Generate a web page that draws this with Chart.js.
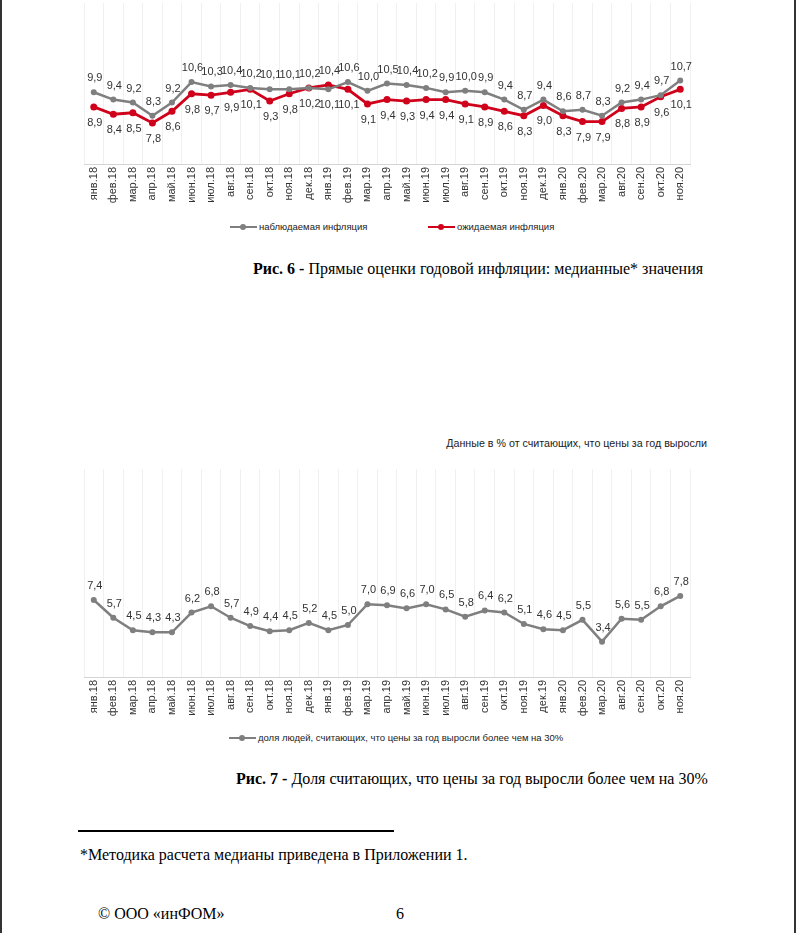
<!DOCTYPE html>
<html lang="ru">
<head>
<meta charset="utf-8">
<script src="https://cdn.jsdelivr.net/npm/chart.js@4.4.1/dist/chart.umd.min.js"></script>
<style>
    html, body { margin: 0; padding: 0; background: #fff; }
    .page {
        position: relative; width: 796px; height: 933px; overflow: hidden;
        box-sizing: border-box; border-left: 2px solid #333; border-right: 2px solid #333;
        font-family: "Liberation Sans", Arial, sans-serif;
    }
    .box { position: absolute; left: -2px; width: 796px; }
    .leg { position: absolute; font-size: 9.5px; color: #222; line-height: 12px; white-space: nowrap; }
    .sym { display: inline-block; position: relative; width: 27px; height: 12px; vertical-align: top; margin-right: 2px; }
    .sym::before { content: ''; position: absolute; left: 0; right: 0; top: 5px; height: 2px; background: var(--c); }
    .sym::after { content: ''; position: absolute; left: 10px; top: 3px; width: 6px; height: 6px; border-radius: 50%; background: var(--c); }
    .cap { position: absolute; font-family: "Liberation Serif", "Times New Roman", serif; font-size: 16px; color: #000; white-space: nowrap; }
    .note { position: absolute; right: 87px; top: 437px; font-size: 10.7px; color: #222; white-space: nowrap; }
    .rule { position: absolute; left: 76px; top: 830px; width: 316px; height: 2px; background: #000; }
</style>
</head>
<body>
<div class="page">
    <div class="box" style="top:-1px; height:210px;"><canvas id="chartInfl"></canvas></div>
    <div class="leg" style="left:228px; top:221px;"><span class="sym" style="--c:#7f7f7f"></span>наблюдаемая инфляция</div>
    <div class="leg" style="left:426px; top:221px;"><span class="sym" style="--c:#d0021b"></span>ожидаемая инфляция</div>
    <div class="cap" style="left:251px; top:260px;"><b>Рис. 6 -</b> Прямые оценки годовой инфляции: медианные* значения</div>

    <div class="note">Данные в % от считающих, что цены за год выросли</div>
    <div class="box" style="top:465px; height:257px;"><canvas id="chartShare"></canvas></div>
    <div class="leg" style="left:227px; top:732px;"><span class="sym" style="--c:#7f7f7f"></span>доля людей, считающих, что цены за год выросли более чем на 30%</div>
    <div class="cap" style="left:234px; top:770px;"><b>Рис. 7 -</b> Доля считающих, что цены за год выросли более чем на 30%</div>

    <div class="rule"></div>
    <div class="cap" style="left:78px; top:846px;">*Методика расчета медианы приведена в Приложении 1.</div>
    <div class="cap" style="left:96px; top:905px;">© ООО «инФОМ»</div>
    <div class="cap" style="left:394px; top:905px;">6</div>
</div>

<script>
// подписи по оси X
const months = [
    'янв.18', 'фев.18', 'мар.18', 'апр.18', 'май.18', 'июн.18', 'июл.18', 'авг.18', 'сен.18', 'окт.18', 'ноя.18', 'дек.18',
    'янв.19', 'фев.19', 'мар.19', 'апр.19', 'май.19', 'июн.19', 'июл.19', 'авг.19', 'сен.19', 'окт.19', 'ноя.19', 'дек.19',
    'янв.20', 'фев.20', 'мар.20', 'авг.20', 'сен.20', 'окт.20', 'ноя.20'
];

// Рис. 6
const observed = [9.9, 9.4, 9.2, 8.3, 9.2, 10.6, 10.3, 10.4, 10.2, 10.1, 10.1, 10.2,
                  10.1, 10.6, 10.0, 10.5, 10.4, 10.2, 9.9, 10.0, 9.9, 9.4, 8.7, 9.4,
                  8.6, 8.7, 8.3, 9.2, 9.4, 9.7, 10.7];
const expected = [8.9, 8.4, 8.5, 7.8, 8.6, 9.8, 9.7, 9.9, 10.1, 9.3, 9.8, 10.2,
                  10.4, 10.1, 9.1, 9.4, 9.3, 9.4, 9.4, 9.1, 8.9, 8.6, 8.3, 9.0,
                  8.3, 7.9, 7.9, 8.8, 8.9, 9.6, 10.1];

// Рис. 7
const over30 = [7.4, 5.7, 4.5, 4.3, 4.3, 6.2, 6.8, 5.7, 4.9, 4.4, 4.5, 5.2,
                4.5, 5.0, 7.0, 6.9, 6.6, 7.0, 6.5, 5.8, 6.4, 6.2, 5.1, 4.6,
                4.5, 5.5, 3.4, 5.6, 5.5, 6.8, 7.8];

const GRAY = '#7f7f7f';
const RED = '#d0021b';
const FONT = '"Liberation Sans", Arial, sans-serif';

const fmt = v => v.toFixed(1).replace('.', ',');

// подписи значений: у большего значения сверху, у меньшего снизу
const valueLabels = {
    id: 'valueLabels',
    afterDatasetsDraw(chart) {
        const ctx = chart.ctx;
        const sets = chart.data.datasets;
        ctx.save();
        ctx.font = '11px ' + FONT;
        ctx.fillStyle = '#333';
        ctx.textAlign = 'center';
        ctx.textBaseline = 'middle';
        sets.forEach((ds, d) => {
            chart.getDatasetMeta(d).data.forEach((pt, i) => {
                let above = true;
                if (sets.length > 1) {
                    const other = sets[1 - d].data[i];
                    above = ds.data[i] > other || (ds.data[i] === other && d === 0);
                }
                ctx.fillText(fmt(ds.data[i]), pt.x + 1, pt.y + (above ? -14 : 16));
            });
        });
        ctx.restore();
    }
};

function lineSet(label, data, color, r, w) {
    return {
        label: label,
        data: data,
        borderColor: color,
        backgroundColor: color,
        borderWidth: w,
        pointRadius: r,
        pointBorderWidth: 0,
        fill: false,
        tension: 0
    };
}

function makeChart(id, datasets, yMin, yMax) {
    return new Chart(document.getElementById(id), {
        type: 'line',
        data: { labels: months, datasets: datasets },
        options: {
            responsive: true,
            maintainAspectRatio: false,
            animation: false,
            layout: { padding: { left: 84, right: 106, top: 0, bottom: 0 } },
            scales: {
                y: { display: false, min: yMin, max: yMax },
                x: {
                    offset: true,
                    grid: { offset: true, color: '#f0f0f0', lineWidth: 1, drawTicks: false },
                    border: { display: true, color: '#d4d4d4', width: 1 },
                    ticks: {
                        autoSkip: false, minRotation: 90, maxRotation: 90, padding: 3,
                        color: '#333', font: { family: FONT, size: 11 }
                    },
                    afterFit: axis => { axis.height = 45; }
                }
            },
            plugins: { legend: { display: false }, tooltip: { enabled: false } }
        },
        plugins: [valueLabels]
    });
}

document.addEventListener('DOMContentLoaded', () => {
    makeChart('chartInfl', [
        lineSet('наблюдаемая инфляция', observed, GRAY, 3, 2.5),
        lineSet('ожидаемая инфляция', expected, RED, 3.5, 2.8)
    ], 5, 16);
    makeChart('chartShare', [
        lineSet('доля людей, считающих, что цены за год выросли более чем на 30%', over30, GRAY, 3, 2.5)
    ], 0, 20);
});
</script>
</body>
</html>
